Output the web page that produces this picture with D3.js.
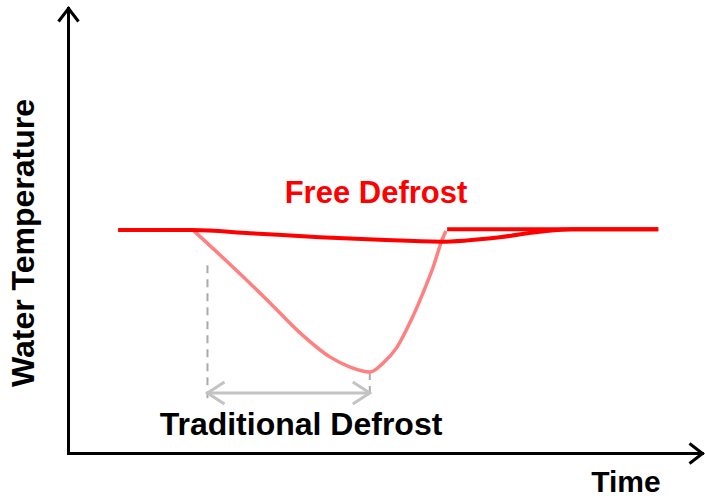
<!DOCTYPE html>
<html>
<head>
<meta charset="utf-8">
<script src="https://cdn.jsdelivr.net/npm/d3@7"></script>
<style>
  body { margin: 0; background: #fff; }
  text { font-family: "Liberation Sans", Arial, sans-serif; font-weight: bold; }
</style>
</head>
<body>
<script>
// sketch of water temp during defrost, free vs traditional

// free defrost line (time, temp)
var freeTime = [7.9, 19.6, 28.7, 39.7, 49.2, 58.7, 68.1, 74.4, 79.5, 93.1]
var freeTemp = [50.1, 50.1, 49.4, 48.5, 47.9, 47.5, 48.5, 49.7, 50.3, 50.3]

// traditional defrost dip
var tradTime = [19.7, 26.0, 31.4, 36.6, 41.3, 44.5, 47.6, 49.7, 51.9, 53.9, 56.0, 57.6, 59.0, 59.6]
var tradTemp = [50.1, 41.8, 34.4, 27.0, 21.6, 19.3, 18.2, 20.2, 23.8, 29.2, 36.0, 41.8, 47.9, 49.9]

// flat line after recovery
var recoverTime = [59.8, 93.1]
var recoverTemp = [50.3, 50.3]

// duration marker for traditional defrost
var spanStart = 22.0
var spanEnd = 47.6
var spanLevel = 13.5
var dashTop = [42.2, 18.2]

var labels = {y: "Water Temperature", x: "Time", free: "Free Defrost", trad: "Traditional Defrost"}

var screen = {width: 705, height: 498}

var xScale = d3.scaleLinear()
                .domain([0, 100])
                .range([68, 702])

var yScale = d3.scaleLinear()
                .domain([0, 100])
                .range([453, 8])

var svg = d3.select("body")
    .append("svg")
    .attr("width", screen.width)
    .attr("height", screen.height)

var defs = svg.append("defs")

defs.append("marker")
    .attr("id", "axisHead")
    .attr("markerUnits", "userSpaceOnUse")
    .attr("viewBox", "-20 -14 24 28")
    .attr("markerWidth", 24)
    .attr("markerHeight", 28)
    .attr("refX", 0)
    .attr("refY", 0)
    .attr("orient", "auto")
    .append("path")
    .attr("d", "M-13,-10L0,0L-13,10")
    .attr("fill", "none")
    .attr("stroke", "black")
    .attr("stroke-width", 3)

defs.append("marker")
    .attr("id", "spanHead")
    .attr("markerUnits", "userSpaceOnUse")
    .attr("viewBox", "-22 -14 26 28")
    .attr("markerWidth", 26)
    .attr("markerHeight", 28)
    .attr("refX", 0)
    .attr("refY", 0)
    .attr("orient", "auto-start-reverse")
    .append("path")
    .attr("d", "M-17,-11L0,0L-17,11")
    .attr("fill", "none")
    .attr("stroke", "#c3c3c3")
    .attr("stroke-width", 3)

// axes with no ticks, just the arrows
var xAxis = d3.axisBottom(xScale).tickValues([]).tickSizeOuter(0)
var yAxis = d3.axisLeft(yScale).tickValues([]).tickSizeOuter(0)

svg.append("g")
    .attr("id", "xAxis")
    .attr("transform", "translate(0," + yScale(0) + ")")
    .call(xAxis)

svg.append("g")
    .attr("id", "yAxis")
    .attr("transform", "translate(" + xScale(0) + ",0)")
    .call(yAxis)

svg.selectAll("#xAxis path, #yAxis path")
    .attr("stroke", "black")
    .attr("stroke-width", 3)
    .attr("stroke-linecap", "square")
    .attr("marker-end", "url(#axisHead)")

svg.append("text")
    .attr("transform", "translate(34," + 243 + ") rotate(-90)")
    .attr("text-anchor", "middle")
    .attr("font-size", 32)
    .attr("fill", "black")
    .text(labels.y)

svg.append("text")
    .attr("x", 626)
    .attr("y", 492)
    .attr("text-anchor", "middle")
    .attr("font-size", 30)
    .attr("fill", "black")
    .text(labels.x)

// dashed guides
var dashes = [{t: spanStart, top: dashTop[0]}, {t: spanEnd, top: dashTop[1]}]
svg.selectAll("line.guide")
    .data(dashes)
    .enter()
    .append("line")
    .attr("class", "guide")
    .attr("x1", function(d) {return xScale(d.t)})
    .attr("x2", function(d) {return xScale(d.t)})
    .attr("y1", function(d) {return yScale(d.top)})
    .attr("y2", yScale(spanLevel - 1.2))
    .attr("stroke", "#aaaaaa")
    .attr("stroke-width", 2)
    .attr("stroke-dasharray", "8,6")

svg.append("line")
    .attr("x1", xScale(spanStart))
    .attr("x2", xScale(spanEnd))
    .attr("y1", yScale(spanLevel))
    .attr("y2", yScale(spanLevel))
    .attr("stroke", "#c3c3c3")
    .attr("stroke-width", 3)
    .attr("marker-start", "url(#spanHead)")
    .attr("marker-end", "url(#spanHead)")

var line = d3.line()
    .x(function(d) {return xScale(d[0])})
    .y(function(d) {return yScale(d[1])})
    .curve(d3.curveMonotoneX)

var tradData = d3.zip(tradTime, tradTemp)
var freeData = d3.zip(freeTime, freeTemp)
var recoverData = d3.zip(recoverTime, recoverTemp)

svg.append("path")
    .datum(tradData)
    .attr("d", line)
    .attr("fill", "none")
    .attr("stroke", "#ff8080")
    .attr("stroke-width", 3.5)

svg.append("path")
    .datum(freeData)
    .attr("d", line)
    .attr("fill", "none")
    .attr("stroke", "#ff0000")
    .attr("stroke-width", 4)

svg.append("path")
    .datum(recoverData)
    .attr("d", line)
    .attr("fill", "none")
    .attr("stroke", "#ff0000")
    .attr("stroke-width", 4)

svg.append("text")
    .attr("x", 376)
    .attr("y", 203)
    .attr("text-anchor", "middle")
    .attr("font-size", 31)
    .attr("fill", "#ff0000")
    .text(labels.free)

svg.append("text")
    .attr("x", 301)
    .attr("y", 435)
    .attr("text-anchor", "middle")
    .attr("font-size", 32)
    .attr("fill", "black")
    .text(labels.trad)
</script>
</body>
</html>
